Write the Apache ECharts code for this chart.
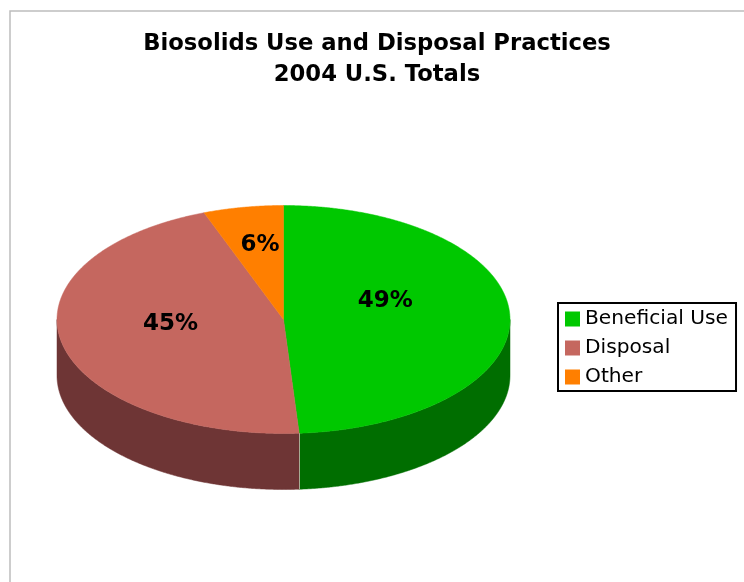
<!DOCTYPE html>
<html><head><meta charset="utf-8">
<style>html,body{margin:0;padding:0;background:#fff}#c{width:744px;height:582px}</style>
<script src="https://cdn.jsdelivr.net/npm/echarts@6/dist/echarts.min.js"></script>
</head><body><div id="c"></div>
<script>
const titleLines = ['Biosolids Use and Disposal Practices', '2004 U.S. Totals'];
const categories = ['Beneficial Use', 'Disposal', 'Other'];
const shares = [48.9, 45.4, 5.7];
const topColors = ['#00C800', '#C5675F', '#FF7F00'];
const sideColors = ['#006E00', '#6E3535', '#8C4600'];

const pie = {cx: 283.5, cy: 319.5, rx: 226.5, ry: 114, depth: 56};
const labelRadial = [0.45, 0.51, 0.58];
const labelLift = [17, 8, 9];
const total = shares.reduce((a, b) => a + b, 0);
const RAD = Math.PI / 180;
const pt = (deg, dy) => [pie.cx + pie.rx * Math.sin(deg * RAD), pie.cy - pie.ry * Math.cos(deg * RAD) + (dy || 0)];

function arcPoints(a, b, dy) {
  const n = Math.max(2, Math.ceil(Math.abs(b - a) * 3)), out = [];
  for (let i = 0; i <= n; i++) out.push(pt(a + (b - a) * i / n, dy));
  return out;
}
function sliceRenderer(idx) {
  return function (params, api) {
    const v = api.value(0);
    const before = shares.slice(0, idx).reduce((a, b) => a + b, 0);
    const t0 = before / total * 360, t1 = t0 + v / total * 360;
    const children = [];
    const f0 = Math.max(t0, 90), f1 = Math.min(t1, 270);
    if (f1 > f0) {
      const pts = arcPoints(f0, f1, 0).concat(arcPoints(f1, f0, pie.depth));
      children.push({type: 'polygon', shape: {points: pts},
        style: {fill: sideColors[idx], stroke: sideColors[idx], lineWidth: 0.5}});
    }
    children.push({type: 'polygon', shape: {points: [[pie.cx, pie.cy]].concat(arcPoints(t0, t1, 0))},
      style: {fill: topColors[idx], stroke: topColors[idx], lineWidth: 0.5}});
    if (idx === 1) {
      const a = pt(t0, 0), b = pt(t0, pie.depth), sx = Math.floor(a[0]) + 0.5;
      children.push({type: 'line', shape: {x1: sx, y1: a[1], x2: sx, y2: b[1]},
        style: {stroke: 'rgba(240,225,225,0.6)', lineWidth: 1}});
    }
    const mid = (t0 + t1) / 2;
    children.push({type: 'text', z2: 10, style: {
      x: pie.cx + pie.rx * labelRadial[idx] * Math.sin(mid * RAD),
      y: pie.cy - pie.ry * labelRadial[idx] * Math.cos(mid * RAD) - labelLift[idx],
      text: Math.round(v / total * 100) + '%',
      fill: '#000', font: 'bold 23px "DejaVu Sans"', align: 'center', verticalAlign: 'middle'}});
    return {type: 'group', children};
  };
}
const chart = echarts.init(document.getElementById('c'), null, {renderer: 'canvas'});
chart.setOption({
  animation: false,
  backgroundColor: '#fff',
  title: {
    text: titleLines.join('\n'), left: 372, top: 24, textAlign: 'center',
    textStyle: {fontFamily: 'DejaVu Sans', fontWeight: 'bold', fontSize: 22.7, lineHeight: 31, color: '#000'}
  },
  legend: {
    orient: 'vertical', left: 558, top: 303, padding: [6, 8, 4, 7], itemWidth: 15, itemHeight: 15,
    itemGap: 9, itemTextGap: 4, icon: 'rect', borderColor: '#000', borderWidth: 2,
    data: categories, selectedMode: false,
    textStyle: {fontFamily: 'DejaVu Sans', fontSize: 20.2, color: '#000'}
  },
  graphic: [{type: 'rect', silent: true, shape: {x: 10, y: 11, width: 900, height: 800},
    style: {fill: 'none', stroke: '#bdbdbd', lineWidth: 1.5}}],
  series: categories.map((name, i) => ({
    type: 'custom', name, coordinateSystem: 'none',
    itemStyle: {color: topColors[i]},
    renderItem: sliceRenderer(i),
    data: [[shares[i]]], z: i === 2 ? 3 : 2
  }))
});
</script></body></html>
